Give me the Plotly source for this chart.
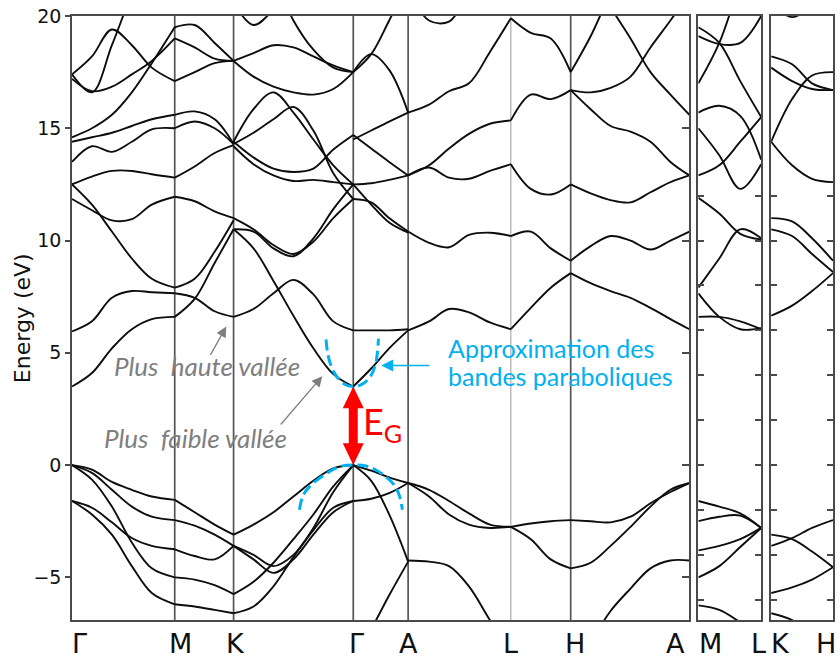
import plotly.graph_objects as go

# ---------------------------------------------------------------------------
# Band structure data (energies in eV, k in path-length units)
# ---------------------------------------------------------------------------
HS_LABELS_MAIN = ["Γ", "M", "K", "Γ", "A", "L", "H", "A"]
HS_K_MAIN = [0, 103, 162, 282, 337, 440, 500, 619]
ML_LABELS = ["M", "L"]
ML_K_END = 63
KH_LABELS = ["K", "H"]
KH_K_END = 62

E_RANGE = [-6.9, 20]
E_VBM = 0.0
E_GAP = 3.5

# Γ -> M
GM_K = [0, 20, 40, 60, 80, 103]
GM_BANDS = [
    [0, -0.2, -0.75, -1.1, -1.4, -1.55],
    [0, -0.35, -1.1, -1.85, -2.3, -2.45],
    [0, -0.65, -1.85, -3.45, -4.6, -5.0],
    [-1.6, -1.9, -2.55, -3.25, -3.6, -3.75],
    [-1.6, -2.2, -3.1, -4.5, -5.7, -6.2],
    [3.5, 4.1, 5.2, 6.05, 6.5, 6.6],
    [5.95, 6.4, 7.45, 7.75, 7.7, 7.65],
    [12.5, 11.6, 10.4, 9.2, 8.3, 7.9],
    [11.85, 11.35, 10.9, 10.95, 11.6, 11.95],
    [12.5, 12.85, 13.1, 13.1, 12.95, 12.8],
    [13.5, 14.2, 13.95, 14.4, 14.95, 15.0],
    [14.4, 14.6, 14.8, 15.1, 15.4, 15.6],
    [14.6, 15.0, 15.6, 16.6, 17.9, 19.5],
    [17.4, 18.2, 19.4, 18.7, 17.7, 17.1],
    [17.4, 16.6, 18.7, 21.0, 23.0, 24.5],
    [17.2, 16.65, 16.85, 17.4, 18.0, 19.0],
]

# M -> K
MK_K = [103, 123, 143, 162]
MK_BANDS = [
    [-1.55, -2.1, -2.65, -3.1],
    [-2.45, -2.7, -3.1, -3.6],
    [-3.75, -4.05, -4.2, -3.6],
    [-5.0, -5.1, -5.35, -5.75],
    [-6.2, -6.3, -6.45, -6.6],
    [6.6, 7.4, 9.0, 10.5],
    [7.65, 7.45, 6.85, 6.6],
    [7.9, 8.3, 9.5, 10.9],
    [11.95, 11.75, 11.3, 11.0],
    [12.8, 13.3, 13.9, 14.25],
    [15.0, 15.3, 15.0, 14.3],
    [15.6, 15.75, 15.4, 14.3],
    [17.1, 17.5, 17.9, 18.0],
    [19.0, 18.6, 18.1, 18.0],
    [19.5, 19.6, 18.8, 18.0],
]

# K -> Γ
KG_K = [162, 182, 202, 222, 242, 262, 282]
KG_BANDS = [
    [-3.1, -2.65, -2.1, -1.4, -0.7, -0.15, 0],
    [-3.6, -4.2, -4.8, -4.2, -3.1, -2.1, -1.6],
    [-3.6, -4.0, -4.5, -4.0, -2.8, -1.2, 0],
    [-5.75, -5.2, -4.35, -3.3, -2.2, -0.95, 0],
    [-6.6, -6.3, -5.4, -4.1, -2.9, -1.9, -1.6],
    [10.5, 9.65, 8.2, 6.65, 5.2, 4.05, 3.5],
    [6.6, 6.95, 7.65, 8.25, 7.6, 6.4, 6.0],
    [11.0, 10.5, 9.8, 9.4, 9.95, 11.0, 11.85],
    [10.5, 10.4, 9.65, 9.3, 10.1, 11.4, 12.5],
    [14.4, 15.85, 16.6, 15.7, 14.5, 13.35, 12.5],
    [14.3, 14.8, 15.4, 15.95, 14.9, 13.0, 11.85],
    [14.4, 13.7, 13.2, 13.05, 13.2, 14.05, 14.7],
    [14.2, 13.4, 12.9, 12.65, 12.7, 12.6, 12.5],
    [18.0, 18.35, 18.7, 18.6, 18.2, 17.8, 17.5],
    [18.0, 17.3, 16.85, 16.6, 16.5, 16.75, 17.5],
    [20.6, 19.6, 20.3, 21.5, 22.5, 23.0, 23.5],
    [24.0, 23.0, 21.8, 19.8, 18.5, 17.7, 17.5],
]

# Γ -> A
GA_K = [282, 300, 318, 337]
GA_BANDS = [
    [0, -0.25, -0.55, -0.8],
    [-1.6, -1.5, -1.25, -0.8],
    [0, -0.7, -2.2, -4.3],
    [-8.6, -7.3, -5.8, -4.3],
    [3.5, 4.3, 5.2, 6.0],
    [6.0, 6.0, 6.0, 6.05],
    [11.85, 11.7, 11.0, 10.4],
    [12.5, 11.6, 10.8, 10.35],
    [12.5, 12.55, 12.7, 12.9],
    [14.7, 14.1, 13.5, 12.9],
    [14.5, 14.9, 15.3, 15.7],
    [17.5, 18.3, 17.6, 15.7],
    [17.5, 18.3, 19.8, 21.5],
]

# A -> L
AL_K = [337, 358, 378, 398, 419, 440]
AL_BANDS = [
    [-0.8, -1.1, -1.6, -2.15, -2.65, -2.75],
    [-0.8, -1.4, -2.2, -2.65, -2.8, -2.75],
    [-4.25, -4.3, -4.5, -5.4, -6.9, -8.3],
    [6.0, 6.4, 6.95, 6.8, 6.35, 6.05],
    [10.4, 9.9, 9.7, 10.25, 10.35, 10.2],
    [12.9, 13.25, 12.8, 12.75, 13.1, 13.4],
    [12.9, 13.35, 14.1, 14.75, 15.2, 15.35],
    [15.7, 16.05, 16.65, 17.0, 18.4, 19.9],
    [21.2, 19.8, 19.75, 21.0, 22.0, 23.0],
]

# L -> H
LH_K = [440, 460, 480, 500]
LH_BANDS = [
    [-2.75, -2.6, -2.5, -2.45],
    [-2.75, -3.3, -4.2, -4.6],
    [6.05, 7.0, 7.9, 8.55],
    [10.2, 10.4, 9.65, 9.1],
    [13.4, 12.3, 12.05, 12.5],
    [15.35, 16.5, 16.3, 16.7],
    [19.9, 19.25, 19.0, 17.5],
]

# H -> A
HA_K = [500, 520, 540, 560, 580, 600, 619]
HA_BANDS = [
    [-2.45, -2.5, -2.55, -2.3, -1.7, -1.2, -0.8],
    [-4.6, -4.35, -3.6, -2.75, -1.85, -1.1, -0.8],
    [-9.5, -7.9, -6.5, -5.5, -4.6, -4.25, -4.25],
    [8.55, 8.1, 7.75, 7.45, 7.0, 6.5, 6.05],
    [9.1, 9.75, 10.2, 10.0, 9.6, 10.0, 10.4],
    [12.5, 12.1, 11.8, 11.7, 12.15, 12.6, 12.9],
    [16.7, 15.85, 15.1, 14.85, 14.4, 13.5, 12.9],
    [17.5, 19.1, 21.0, 22.5, 23.5, 24.5, 25.5],
    [24.0, 22.0, 20.4, 19.0, 17.5, 16.5, 15.6],
    [16.7, 16.6, 16.8, 17.3, 18.6, 19.8, 21.0],
]

# M -> L (second panel)
ML_K = [0, 21, 42, 63]
ML_BANDS = [
    [-1.6, -1.85, -2.15, -2.8],
    [-2.5, -2.3, -2.25, -2.8],
    [-3.8, -3.6, -3.3, -2.8],
    [-5.0, -4.5, -3.65, -2.8],
    [-6.25, -6.45, -7.0, -7.6],
    [6.6, 6.6, 6.4, 6.05],
    [7.65, 6.6, 6.05, 6.1],
    [7.9, 9.2, 10.5, 10.1],
    [11.9, 11.2, 10.3, 10.05],
    [12.9, 13.35, 14.4, 15.5],
    [15.0, 13.8, 12.3, 13.4],
    [15.7, 16.0, 15.55, 13.6],
    [17.0, 18.8, 21.5, 24.0],
    [19.1, 18.75, 18.8, 20.0],
    [19.5, 18.8, 17.1, 15.5],
]

# K -> H (third panel)
KH_K = [0, 21, 41, 62]
KH_BANDS = [
    [-3.1, -3.3, -3.85, -4.55],
    [-3.6, -3.25, -2.8, -2.45],
    [-5.7, -5.45, -5.1, -4.55],
    [-6.6, -6.9, -7.5, -8.2],
    [6.65, 7.1, 7.75, 8.55],
    [10.5, 10.2, 9.4, 8.6],
    [11.0, 10.85, 10.1, 9.1],
    [14.4, 13.35, 12.75, 12.6],
    [14.4, 16.3, 17.35, 17.5],
    [17.7, 17.1, 16.75, 16.7],
    [18.2, 17.85, 17.0, 16.7],
    [20.6, 19.95, 20.5, 21.5],
]

# Parabolic approximations around Γ (conduction and valence band edges)
CB_PARAB_K = [254.7, 256.3, 259.7, 264.7, 273, 282, 291.3, 299.7, 304.7, 307.3]
CB_PARAB_E = [5.6, 5.0, 4.42, 3.98, 3.61, 3.5, 3.61, 3.98, 4.57, 5.63]
VB_PARAB_K = [228, 231.3, 238, 248, 258, 268, 282, 294.7, 304.7, 314.7, 323, 328, 331.3]
VB_PARAB_E = [-1.99, -1.40, -0.96, -0.59, -0.30, -0.07, 0.0, -0.04, -0.22, -0.52, -0.88, -1.33, -1.99]

Y_TICKS_MAIN = [-5, 0, 5, 10, 15, 20]
Y_TICKS_SIDE = [-6, -4, -2, 0, 2, 4, 6, 8, 10, 12]

# ---------------------------------------------------------------------------
# Styling
# ---------------------------------------------------------------------------
W, H = 840, 662
M_L, M_R, M_T, M_B = 72, 5, 13, 42
PLOT_W = W - M_L - M_R
BAND_COLOR = "#0d0d0d"
FRAME_COLOR = "#4a4a4a"
BLUE = "#00B0F0"
GREY = "#7f7f7f"
RED = "#FF0000"
AXIS_FONT = "DejaVu Sans"
NOTE_FONT = "Lato"

# panel extents inside the plotting area
DOM1 = [0, 619 / PLOT_W]
DOM2 = [628 / PLOT_W, 691 / PLOT_W]
DOM3 = [701 / PLOT_W, 1.0]

fig = go.Figure()


def add_band(k, e, xa, ya):
    fig.add_trace(go.Scatter(
        x=k, y=e, mode="lines", xaxis=xa, yaxis=ya,
        line=dict(color=BAND_COLOR, width=1.9, shape="spline", smoothing=1.0),
        hoverinfo="skip", showlegend=False))


for seg_k, seg_bands in [(GM_K, GM_BANDS), (MK_K, MK_BANDS), (KG_K, KG_BANDS),
                         (GA_K, GA_BANDS), (AL_K, AL_BANDS), (LH_K, LH_BANDS),
                         (HA_K, HA_BANDS)]:
    for band in seg_bands:
        add_band(seg_k, band, "x", "y")

for band in ML_BANDS:
    add_band(ML_K, band, "x2", "y3")
for band in KH_BANDS:
    add_band(KH_K, band, "x3", "y4")

# dashed parabolic fits
for pk, pe in [(CB_PARAB_K, CB_PARAB_E), (VB_PARAB_K, VB_PARAB_E)]:
    fig.add_trace(go.Scatter(
        x=pk, y=pe, mode="lines", xaxis="x", yaxis="y",
        line=dict(color=BLUE, width=3, dash="11px,5px", shape="spline"),
        hoverinfo="skip", showlegend=False))

# invisible trace so the right-hand tick axis of the main panel is drawn
fig.add_trace(go.Scatter(x=[None], y=[None], xaxis="x", yaxis="y2",
                         showlegend=False, hoverinfo="skip"))

# vertical lines at the interior high-symmetry points
for i, kv in enumerate(HS_K_MAIN[1:-1], start=1):
    is_l = HS_LABELS_MAIN[i] == "L"
    fig.add_shape(type="line", xref="x", yref="paper", x0=kv, x1=kv, y0=0, y1=1,
                  line=dict(color="#9a9a9a" if is_l else "#555555",
                            width=1.0 if is_l else 1.7),
                  layer="below")

# red double arrow showing the gap at Γ
G_K = HS_K_MAIN[3]
PX_PER_EV = (H - M_T - M_B) / (E_RANGE[1] - E_RANGE[0])
head_len = 22 / PX_PER_EV
head_hw, shaft_hw = 10.5, 4.5
y0, y1 = E_VBM, E_VBM + E_GAP
arrow_path = (
    f"M{G_K - shaft_hw},{y0 + head_len} L{G_K - shaft_hw},{y1 - head_len} "
    f"L{G_K - head_hw},{y1 - head_len} L{G_K},{y1} L{G_K + head_hw},{y1 - head_len} "
    f"L{G_K + shaft_hw},{y1 - head_len} L{G_K + shaft_hw},{y0 + head_len} "
    f"L{G_K + head_hw},{y0 + head_len} L{G_K},{y0} L{G_K - head_hw},{y0 + head_len} Z"
)
fig.add_shape(type="path", xref="x", yref="y", path=arrow_path,
              fillcolor=RED, line=dict(width=0), layer="above")

annotations = []

# high-symmetry labels (small horizontal nudges keep crowded labels apart)
MAIN_LABEL_SHIFT = [7, 6, 2, 3, 0, 0, 4, -14]
for lab, kv, sh in zip(HS_LABELS_MAIN, HS_K_MAIN, MAIN_LABEL_SHIFT):
    annotations.append(dict(text=lab, x=kv, xref="x", y=-0.01, yref="paper",
                            yanchor="top", xanchor="center", xshift=sh, showarrow=False,
                            font=dict(family=AXIS_FONT, size=27, color="#111")))
for lab, kv, sh, xr in [(ML_LABELS[0], 0, 12, "x2"), (ML_LABELS[1], ML_K_END, -3, "x2"),
                        (KH_LABELS[0], 0, 9, "x3"), (KH_LABELS[1], KH_K_END, -7, "x3")]:
    annotations.append(dict(text=lab, x=kv, xref=xr, y=-0.01, yref="paper",
                            yanchor="top", xanchor="center", xshift=sh, showarrow=False,
                            font=dict(family=AXIS_FONT, size=27, color="#111")))

# y-axis title
annotations.append(dict(text="Energy (eV)", textangle=-90, x=(22 - M_L) / PLOT_W,
                        xref="paper", y=0.5, yref="paper", showarrow=False,
                        xanchor="center", yanchor="middle",
                        font=dict(family=AXIS_FONT, size=22, color="#111")))

# grey valley notes
annotations.append(dict(text="<i>Plus\u00a0 haute vallée</i>", x=40, y=4.4, xref="x", yref="y",
                        xanchor="left", yanchor="middle", showarrow=False,
                        font=dict(family=NOTE_FONT, size=26, color=GREY)))
annotations.append(dict(text="<i>Plus\u00a0 faible vallée</i>", x=30, y=1.2, xref="x", yref="y",
                        xanchor="left", yanchor="middle", showarrow=False,
                        font=dict(family=NOTE_FONT, size=26, color=GREY)))
annotations.append(dict(text="", x=154.7, y=6.17, ax=138, ay=4.84, xref="x", yref="y",
                        axref="x", ayref="y", showarrow=True, arrowhead=2, arrowsize=1.6,
                        arrowwidth=1.3, arrowcolor=GREY))
annotations.append(dict(text="", x=251, y=3.96, ax=208, ay=1.74, xref="x", yref="y",
                        axref="x", ayref="y", showarrow=True, arrowhead=2, arrowsize=1.6,
                        arrowwidth=1.3, arrowcolor=GREY))

# blue note about the parabolic approximation
annotations.append(dict(text="", x=310, y=4.44, ax=360, ay=4.44, xref="x", yref="y",
                        axref="x", ayref="y", showarrow=True, arrowhead=2, arrowsize=1.6,
                        arrowwidth=1.5, arrowcolor=BLUE))
annotations.append(dict(text="Approximation des", x=375, y=5.22, xref="x", yref="y",
                        xanchor="left", yanchor="middle", showarrow=False,
                        font=dict(family=NOTE_FONT, size=25, color=BLUE)))
annotations.append(dict(text="bandes paraboliques", x=375, y=3.95, xref="x", yref="y",
                        xanchor="left", yanchor="middle", showarrow=False,
                        font=dict(family=NOTE_FONT, size=25, color=BLUE)))

# gap label
annotations.append(dict(text="E<sub>G</sub>", x=G_K + 8, y=E_VBM + E_GAP / 2 + 0.12,
                        xref="x", yref="y", xanchor="left", yanchor="middle",
                        showarrow=False, font=dict(family=NOTE_FONT, size=36, color=RED)))

frame = dict(showline=True, linecolor=FRAME_COLOR, linewidth=1.6, mirror=True,
             showgrid=False, zeroline=False)

fig.update_layout(
    width=W, height=H,
    margin=dict(l=M_L, r=M_R, t=M_T, b=M_B, pad=0),
    paper_bgcolor="white", plot_bgcolor="white",
    showlegend=False,
    xaxis=dict(domain=DOM1, range=[HS_K_MAIN[0], HS_K_MAIN[-1]], anchor="y",
               showticklabels=False, ticks="", **frame),
    xaxis2=dict(domain=DOM2, range=[0, ML_K_END], anchor="y3",
                showticklabels=False, ticks="", **frame),
    xaxis3=dict(domain=DOM3, range=[0, KH_K_END], anchor="y4",
                showticklabels=False, ticks="", **frame),
    yaxis=dict(range=E_RANGE, anchor="x", tickvals=Y_TICKS_MAIN, ticks="outside",
               ticklen=5, tickwidth=1.5, tickcolor=FRAME_COLOR,
               tickfont=dict(family=AXIS_FONT, size=19, color="#111"), **frame),
    yaxis2=dict(range=E_RANGE, anchor="x", overlaying="y", side="right",
                tickvals=Y_TICKS_MAIN, ticks="inside", ticklen=7, tickwidth=1.5,
                tickcolor=FRAME_COLOR, showticklabels=False, showline=False,
                showgrid=False, zeroline=False),
    yaxis3=dict(range=E_RANGE, anchor="x2", tickvals=Y_TICKS_SIDE, ticks="inside",
                ticklen=6, tickwidth=1.5, tickcolor=FRAME_COLOR, showticklabels=False,
                showline=True, linecolor=FRAME_COLOR, linewidth=1.6, mirror="ticks",
                showgrid=False, zeroline=False),
    yaxis4=dict(range=E_RANGE, anchor="x3", tickvals=Y_TICKS_SIDE, ticks="inside",
                ticklen=6, tickwidth=1.5, tickcolor=FRAME_COLOR, showticklabels=False,
                showline=True, linecolor=FRAME_COLOR, linewidth=1.6, mirror="ticks",
                showgrid=False, zeroline=False),
    annotations=annotations,
)

fig.write_html("out.html")
